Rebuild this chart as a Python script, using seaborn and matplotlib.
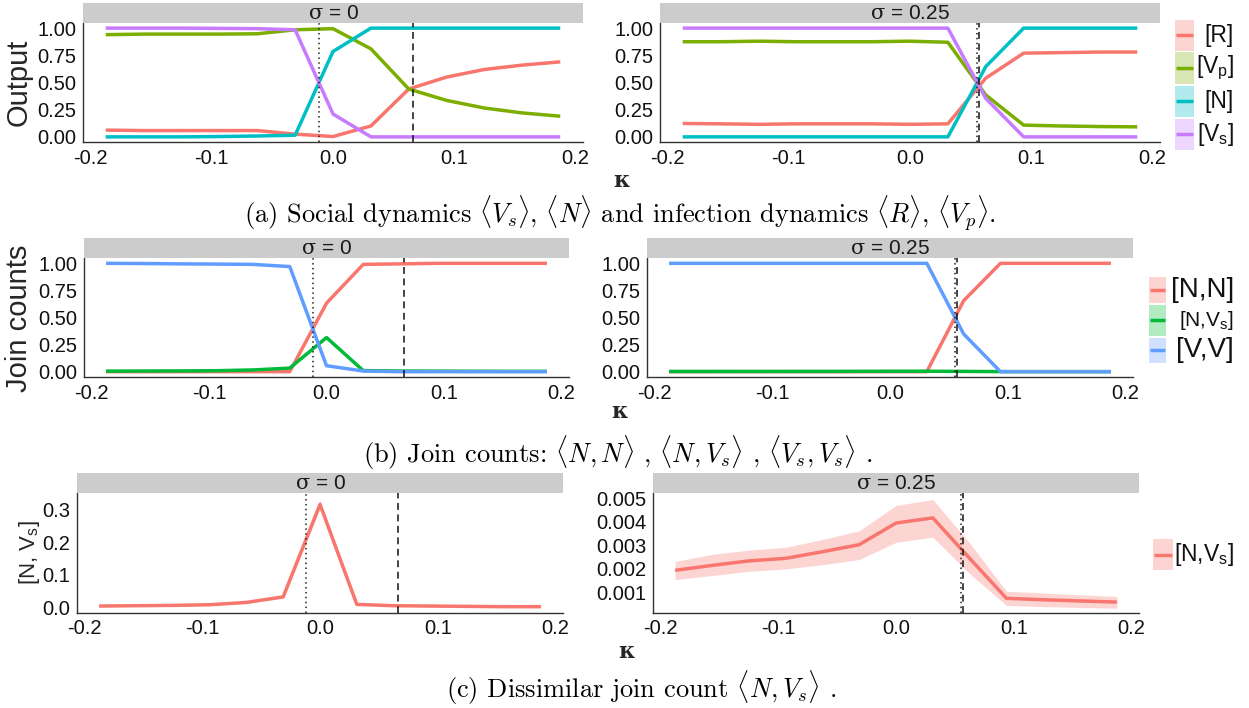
import matplotlib
matplotlib.use("Agg")
import numpy as np
import pandas as pd
import matplotlib.pyplot as plt
import seaborn as sns
from matplotlib.patches import Rectangle

# ---------------------------------------------------------------- data
kappa = [-0.1875, -0.15625, -0.125, -0.09375, -0.0625, -0.03125, 0.0,
         0.03125, 0.0625, 0.09375, 0.125, 0.15625, 0.1875]

# (a) output shares, sigma = 0
r_s0 = [0.062, 0.058, 0.058, 0.058, 0.058, 0.025, 0.003, 0.10, 0.44, 0.55, 0.62, 0.66, 0.69]
vp_s0 = [0.94, 0.945, 0.945, 0.945, 0.948, 0.985, 0.995, 0.81, 0.44, 0.335, 0.265, 0.22, 0.19]
n_s0 = [0.0, 0.0, 0.0, 0.003, 0.008, 0.015, 0.785, 1.0, 1.0, 1.0, 1.0, 1.0, 1.0]
vs_s0 = [1.0, 1.0, 1.0, 0.998, 0.995, 0.985, 0.21, 0.0, 0.0, 0.0, 0.0, 0.0, 0.0]

# (a) output shares, sigma = 0.25
r_s25 = [0.123, 0.12, 0.115, 0.12, 0.12, 0.12, 0.115, 0.12, 0.54, 0.77, 0.775, 0.78, 0.78]
vp_s25 = [0.875, 0.875, 0.88, 0.875, 0.875, 0.875, 0.88, 0.87, 0.385, 0.108, 0.10, 0.095, 0.092]
n_s25 = [0.0, 0.0, 0.0, 0.0, 0.0, 0.0, 0.0, 0.0, 0.646, 1.0, 1.0, 1.0, 1.0]
vs_s25 = [1.0, 1.0, 1.0, 1.0, 1.0, 1.0, 1.0, 1.0, 0.354, 0.0, 0.0, 0.0, 0.0]

# (b) join counts
nn_s0 = [0.0, 0.0, 0.0, 0.0, 0.0, 0.0, 0.632, 0.99, 0.995, 1.0, 1.0, 1.0, 1.0]
nvs_s0 = [0.005, 0.006, 0.007, 0.009, 0.016, 0.033, 0.315, 0.010, 0.006, 0.005, 0.004, 0.003, 0.003]
vv_s0 = [1.0, 0.998, 0.995, 0.993, 0.99, 0.97, 0.055, 0.006, 0.0, 0.0, 0.0, 0.0, 0.0]
nn_s25 = [0.0, 0.0, 0.0, 0.0, 0.0, 0.0, 0.0, 0.0, 0.655, 1.0, 1.0, 1.0, 1.0]
nvs_s25 = [0.00194, 0.00215, 0.00234, 0.00245, 0.00273, 0.00303, 0.00395, 0.00417,
           0.00245, 0.00075, 0.00069, 0.00064, 0.00059]
vv_s25 = [1.0, 1.0, 1.0, 1.0, 1.0, 1.0, 1.0, 1.0, 0.348, 0.0, 0.0, 0.0, 0.0]

# (c) interval around the dissimilar join count
nvs_lo_s0 = [0.003, 0.004, 0.005, 0.007, 0.013, 0.029, 0.302, 0.008, 0.004, 0.003, 0.002, 0.002, 0.002]
nvs_hi_s0 = [0.007, 0.008, 0.009, 0.011, 0.019, 0.037, 0.328, 0.012, 0.008, 0.007, 0.006, 0.004, 0.004]
nvs_lo_s25 = [0.00155, 0.00172, 0.00190, 0.00200, 0.00218, 0.00240, 0.00313, 0.00335,
              0.00180, 0.00045, 0.00040, 0.00036, 0.00033]
nvs_hi_s25 = [0.00232, 0.00262, 0.00280, 0.00292, 0.00325, 0.00362, 0.00470, 0.00495,
              0.00310, 0.00105, 0.00098, 0.00090, 0.00083]

# critical kappa values (dotted / dashed reference lines) for sigma = 0, 0.25
kappa_dotted = [-0.0115, 0.0553]
kappa_dashed = [0.066, 0.0570]

sigma_labels = [r"$\sigma$ = 0", r"$\sigma$ = 0.25"]
xtick_vals = [-0.2, -0.1, 0.0, 0.1, 0.2]
xtick_labels = ["-0.2", "-0.1", "0.0", "0.1", "0.2"]
ytick_unit = [0.0, 0.25, 0.5, 0.75, 1.0]
ytick_unit_labels = ["0.00", "0.25", "0.50", "0.75", "1.00"]
ytick_c0 = [0.0, 0.1, 0.2, 0.3]
ytick_c0_labels = ["0.0", "0.1", "0.2", "0.3"]
ytick_c25 = [0.001, 0.002, 0.003, 0.004, 0.005]
ytick_c25_labels = ["0.001", "0.002", "0.003", "0.004", "0.005"]

out_names = ["R", "Vp", "N", "Vs"]
join_names = ["NN", "NVs", "VV"]
pal_out = {"R": "#F8766D", "Vp": "#7CAE00", "N": "#00BFC4", "Vs": "#C77CFF"}
pal_join = {"NN": "#F8766D", "NVs": "#00BA38", "VV": "#619CFF"}
red = "#F8766D"

# ---------------------------------------------------------------- style
sns.set_style("white")
plt.rcParams["font.family"] = ["Liberation Sans", "DejaVu Sans"]
plt.rcParams["mathtext.fontset"] = "custom"
plt.rcParams["mathtext.rm"] = "Liberation Sans"
plt.rcParams["mathtext.sf"] = "Liberation Sans"
plt.rcParams["mathtext.it"] = "DejaVu Serif"
plt.rcParams["mathtext.bf"] = "Liberation Sans:bold"

W, H = 1249, 708
fig = plt.figure(figsize=(W / 100, H / 100), dpi=100)
fig.patch.set_facecolor("white")

XLIM = (-0.20625, 0.20625)
LW = 2.5
TICK_FS = 14.5


def px_axes(x0, x1, y0, y1):
    return fig.add_axes([x0 / W, 1 - y1 / H, (x1 - x0) / W, (y1 - y0) / H])


def style_axes(ax, ylim, yticks, yticklabels):
    ax.set_xlim(*XLIM)
    ax.set_ylim(*ylim)
    ax.set_xticks(xtick_vals)
    ax.set_xticklabels(xtick_labels)
    ax.set_yticks(yticks)
    ax.set_yticklabels(yticklabels)
    for s in ("top", "right"):
        ax.spines[s].set_visible(False)
    for s in ("left", "bottom"):
        ax.spines[s].set_color("#333333")
        ax.spines[s].set_linewidth(1.0)
    ax.tick_params(length=2.8, width=0.8, color="#333333", labelsize=TICK_FS,
                   labelcolor="#111111", pad=2)
    ax.set_xlabel("")
    ax.set_ylabel("")
    ax.grid(False)


def draw_lines(ax, series, names, palette):
    df = pd.DataFrame({
        "kappa": np.tile(kappa, len(series)),
        "value": np.concatenate([np.asarray(s, float) for s in series]),
        "var": np.repeat(names, len(kappa)),
    })
    sns.lineplot(data=df, x="kappa", y="value", hue="var", hue_order=names,
                 palette=palette, lw=LW, legend=False, ax=ax, errorbar=None,
                 solid_joinstyle="round", solid_capstyle="butt")


def ref_lines(ax, i):
    ax.axvline(kappa_dotted[i], color="#222222", lw=1.1, ls=(0, (1, 2.2)), zorder=5)
    ax.axvline(kappa_dashed[i], color="#111111", lw=1.1, ls=(0, (4.5, 3)), zorder=5)


# panel geometry in pixels: (x0, x1, y0, y1)
geo = {
    "a0": (83, 583, 22.7, 142.3), "a1": (660, 1160, 22.7, 142.3),
    "b0": (84, 569, 257.9, 377.1), "b1": (647, 1133, 257.9, 377.1),
    "c0": (77, 563, 492.7, 612.7), "c1": (653, 1139, 492.7, 612.7),
}
strip_h = 19.5

# (a)
for i, data in enumerate([(r_s0, vp_s0, n_s0, vs_s0), (r_s25, vp_s25, n_s25, vs_s25)]):
    ax = px_axes(*geo[f"a{i}"])
    draw_lines(ax, data, out_names, pal_out)
    ref_lines(ax, i)
    style_axes(ax, (-0.05, 1.05), ytick_unit, ytick_unit_labels)

# (b)
for i, data in enumerate([(nn_s0, nvs_s0, vv_s0), (nn_s25, nvs_s25, vv_s25)]):
    ax = px_axes(*geo[f"b{i}"])
    draw_lines(ax, data, join_names, pal_join)
    ref_lines(ax, i)
    style_axes(ax, (-0.05, 1.05), ytick_unit, ytick_unit_labels)

# (c)
c_sets = [(nvs_s0, nvs_lo_s0, nvs_hi_s0, (-0.0153, 0.3506), ytick_c0, ytick_c0_labels),
          (nvs_s25, nvs_lo_s25, nvs_hi_s25, (0.00014, 0.00524), ytick_c25, ytick_c25_labels)]
for i, (mid, lo, hi, ylim, yt, ytl) in enumerate(c_sets):
    ax = px_axes(*geo[f"c{i}"])
    ax.fill_between(kappa, lo, hi, color=red, alpha=0.3, lw=0)
    draw_lines(ax, [mid], ["NVs"], {"NVs": red})
    ref_lines(ax, i)
    style_axes(ax, ylim, yt, ytl)

# ---------------------------------------------------------------- annotations
ov = fig.add_axes([0, 0, 1, 1])
ov.set_xlim(0, W)
ov.set_ylim(H, 0)
ov.set_axis_off()

for key, (x0, x1, y0, y1) in geo.items():
    ov.add_patch(Rectangle((x0, y0 - strip_h), x1 - x0, strip_h,
                           facecolor="#CCCCCC", edgecolor="none"))
    ov.text((x0 + x1) / 2, y0 - strip_h / 2 + 0.5, sigma_labels[int(key[1])],
            ha="center", va="center", fontsize=15, color="#1A1A1A")

# axis titles
ov.text(19, 82.5, "Output", rotation=90, ha="center", va="center", fontsize=21)
ov.text(19, 318, "Join counts", rotation=90, ha="center", va="center", fontsize=21)
ov.text(30, 553, r"[N, V$_\mathrm{s}$]", rotation=90, ha="center", va="center", fontsize=16)
for x, y in [(622, 181), (620, 412), (627, 652)]:
    ov.text(x, y, "κ", family="DejaVu Serif", fontweight="bold", ha="center",
            va="center", fontsize=16)

# legends
def legend(entries, x0, x1, xr):
    for label, color, y0, y1, fs in entries:
        ov.add_patch(Rectangle((x0, y0), x1 - x0, y1 - y0, facecolor=color,
                               alpha=0.3, edgecolor="none"))
        ym = (y0 + y1) / 2
        ov.plot([x0 + 1, x1 - 1], [ym, ym], color=color, lw=LW, solid_capstyle="butt")
        ov.text(xr, ym, label, ha="right", va="center", fontsize=fs, color="#111111")


legend([("[R]", pal_out["R"], 20.0, 50.5, 16.5),
        ("[V$_\\mathrm{p}$]", pal_out["Vp"], 52.0, 83.5, 16.5),
        ("[N]", pal_out["N"], 85.5, 117.0, 16.5),
        ("[V$_\\mathrm{s}$]", pal_out["Vs"], 118.5, 150.0, 16.5)], 1175.5, 1194, 1234)
legend([("[N,N]", pal_join["NN"], 277, 303, 20),
        ("[N,V$_\\mathrm{s}$]", pal_join["NVs"], 304.5, 336, 15),
        ("[V,V]", pal_join["VV"], 337.5, 363, 20)], 1149, 1166.5, 1234)
legend([("[N,V$_\\mathrm{s}$]", red, 539, 570, 16.5)], 1153.5, 1172.7, 1234)

# captions
cap_kw = dict(family="cmr10", math_fontfamily="cm", fontsize=19, ha="center",
              va="center", color="black")
ov.text(620, 214, r"(a) Social dynamics $\langle V_s\rangle$, $\langle N\rangle$ and "
        r"infection dynamics $\langle R\rangle$, $\langle V_p\rangle$.", **cap_kw)
ov.text(618, 453, r"(b) Join counts: $\langle N,N\rangle$ , $\langle N,V_s\rangle$ , "
        r"$\langle V_s,V_s\rangle$ .", **cap_kw)
ov.text(641, 688, r"(c) Dissimilar join count $\langle N,V_s\rangle$ .", **cap_kw)

fig.savefig("out.png", dpi=100, facecolor="white")
